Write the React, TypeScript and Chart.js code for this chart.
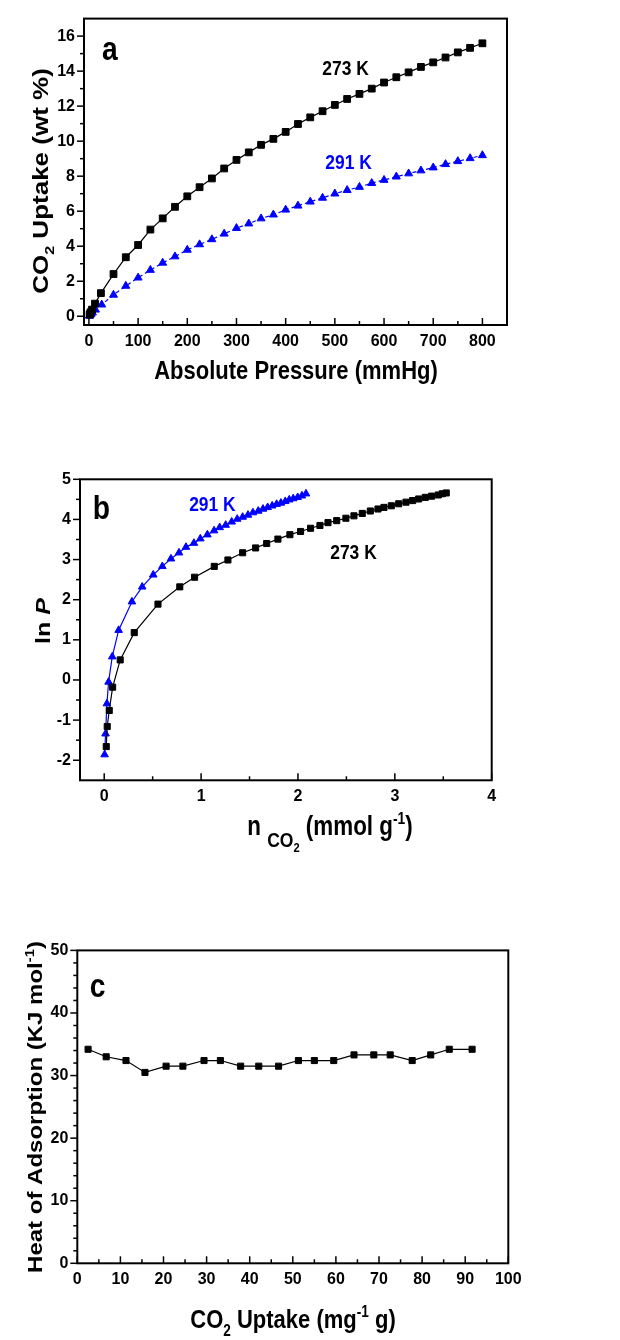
import React, { useEffect, useRef } from 'react';
import { Chart, registerables } from 'chart.js';

Chart.register(...registerables);

const NARROW = '"Liberation Sans Narrow", "Arial Narrow", "Liberation Sans", Arial, sans-serif';
const WIDE = '"Liberation Sans", Arial, sans-serif';
const SQUEEZE = 0.83;

// ---------- Panel a : CO2 uptake vs absolute pressure ----------
const A_P_273 = [1.4, 2.4, 3.5, 6.3, 12.4, 24.4, 50, 75, 100, 125, 150, 175, 200, 225, 250, 275, 300, 325, 350, 375, 400, 425, 450, 475, 500, 525, 550, 575, 600, 625, 650, 675, 700, 725, 750, 775, 800];
const A_U_273 = [0.09, 0.14, 0.23, 0.38, 0.72, 1.32, 2.41, 3.37, 4.07, 4.95, 5.59, 6.25, 6.85, 7.37, 7.87, 8.44, 8.93, 9.36, 9.79, 10.13, 10.53, 10.98, 11.36, 11.71, 12.07, 12.41, 12.7, 13.0, 13.35, 13.65, 13.93, 14.24, 14.5, 14.78, 15.07, 15.33, 15.59];
const A_P_291 = [1.2, 2.0, 4.2, 7.1, 13.4, 26, 50, 75, 100, 125, 150, 175, 200, 225, 250, 275, 300, 325, 350, 375, 400, 425, 450, 475, 500, 525, 550, 575, 600, 625, 650, 675, 700, 725, 750, 775, 800];
const A_U_291 = [0.02, 0.06, 0.12, 0.2, 0.37, 0.66, 1.22, 1.73, 2.2, 2.64, 3.05, 3.41, 3.79, 4.1, 4.39, 4.71, 5.03, 5.29, 5.58, 5.8, 6.08, 6.31, 6.54, 6.76, 7.0, 7.2, 7.38, 7.6, 7.78, 7.97, 8.15, 8.32, 8.49, 8.68, 8.85, 9.02, 9.19];
const A_X_MAJOR = [0, 100, 200, 300, 400, 500, 600, 700, 800];
const A_X_MINOR = [50, 150, 250, 350, 450, 550, 650, 750];
const A_Y_MAJOR = [0, 2, 4, 6, 8, 10, 12, 14, 16];
const A_Y_MINOR = [1, 3, 5, 7, 9, 11, 13, 15];

// ---------- Panel b : ln P vs n CO2 ----------
const B_N_273 = [0.021, 0.031, 0.052, 0.087, 0.165, 0.31, 0.555, 0.78, 0.933, 1.136, 1.277, 1.429, 1.563, 1.677, 1.793, 1.917, 2.027, 2.13, 2.227, 2.31, 2.4, 2.495, 2.578, 2.664, 2.747, 2.826, 2.888, 2.964, 3.04, 3.115, 3.184, 3.246, 3.314, 3.38, 3.449, 3.49, 3.531];
const B_LNP_273 = [-1.66, -1.16, -0.76, -0.18, 0.5, 1.18, 1.89, 2.32, 2.56, 2.83, 2.99, 3.17, 3.29, 3.4, 3.51, 3.62, 3.7, 3.78, 3.85, 3.92, 3.97, 4.03, 4.09, 4.15, 4.21, 4.26, 4.3, 4.34, 4.39, 4.43, 4.47, 4.51, 4.55, 4.58, 4.61, 4.64, 4.66];
const B_N_291 = [0.004, 0.014, 0.028, 0.045, 0.083, 0.149, 0.286, 0.392, 0.506, 0.6, 0.689, 0.772, 0.844, 0.926, 0.992, 1.065, 1.134, 1.192, 1.254, 1.316, 1.373, 1.429, 1.484, 1.535, 1.59, 1.639, 1.687, 1.734, 1.78, 1.824, 1.869, 1.91, 1.951, 1.997, 2.041, 2.083];
const B_LNP_291 = [-1.86, -1.34, -0.59, -0.05, 0.58, 1.24, 1.95, 2.32, 2.62, 2.83, 3.02, 3.17, 3.31, 3.41, 3.52, 3.62, 3.72, 3.8, 3.86, 3.94, 4.01, 4.06, 4.11, 4.17, 4.21, 4.26, 4.3, 4.34, 4.38, 4.41, 4.45, 4.49, 4.52, 4.55, 4.59, 4.64];
const B_X_MAJOR = [0, 1, 2, 3, 4];
const B_X_MINOR = [0.5, 1.5, 2.5, 3.5];
const B_Y_MAJOR = [-2, -1, 0, 1, 2, 3, 4, 5];
const B_Y_MINOR = [-1.5, -0.5, 0.5, 1.5, 2.5, 3.5, 4.5];

// ---------- Panel c : heat of adsorption ----------
const C_UPTAKE = [2.5, 6.7, 11.3, 15.7, 20.6, 24.5, 29.4, 33.2, 37.9, 42.1, 46.7, 51.3, 55.0, 59.5, 64.2, 68.8, 72.6, 77.7, 82.0, 86.3, 91.6];
const C_HEAT = [34.2, 33.0, 32.4, 30.5, 31.5, 31.5, 32.4, 32.4, 31.5, 31.5, 31.5, 32.4, 32.4, 32.4, 33.3, 33.3, 33.3, 32.4, 33.3, 34.2, 34.2];
const C_X_MAJOR = [0, 10, 20, 30, 40, 50, 60, 70, 80, 90, 100];
const C_X_MINOR = [5, 15, 25, 35, 45, 55, 65, 75, 85, 95];
const C_Y_MAJOR = [0, 10, 20, 30, 40, 50];
const C_Y_MINOR = [2, 4, 6, 8, 12, 14, 16, 18, 22, 24, 26, 28, 32, 34, 36, 38, 42, 44, 46, 48];

type Seg = { t: string; s?: number; d?: number; it?: boolean };
type Title = { segs: Seg[]; x: number; y: number; rot: number; size: number; family: string };
type Note = { text: string; x: number; y: number; size: number; color: string };

function drawRich(ctx: CanvasRenderingContext2D, t: Title) {
  ctx.save();
  ctx.translate(t.x, t.y);
  ctx.scale(SQUEEZE, 1);
  ctx.rotate(t.rot);
  const fontOf = (sg: Seg) => `${sg.it ? 'italic ' : ''}bold ${Math.round(t.size * (sg.s || 1) * 10) / 10}px ${t.family}`;
  let total = 0;
  const widths = t.segs.map((sg) => {
    ctx.font = fontOf(sg);
    const w = ctx.measureText(sg.t).width;
    total += w;
    return w;
  });
  let cx = -total / 2;
  ctx.textAlign = 'left';
  ctx.textBaseline = 'alphabetic';
  ctx.fillStyle = '#000';
  t.segs.forEach((sg, i) => {
    ctx.font = fontOf(sg);
    ctx.fillText(sg.t, cx, (sg.d || 0) * t.size);
    cx += widths[i];
  });
  ctx.restore();
}

function makeDecor(titles: Title[], notes: Note[]) {
  return {
    id: 'decor',
    afterDraw(chart: any) {
      const ctx: CanvasRenderingContext2D = chart.ctx;
      const a = chart.chartArea;
      const xs = chart.scales.x;
      const ys = chart.scales.y;
      ctx.save();
      ctx.strokeStyle = '#000';
      ctx.lineWidth = 2;
      ctx.strokeRect(a.left, a.top, a.right - a.left, a.bottom - a.top);
      ctx.lineWidth = 1.5;
      xs.ticks.forEach((tk: any) => {
        const p = xs.getPixelForValue(tk.value);
        const len = tk.label !== '' ? 7 : 4;
        ctx.beginPath();
        ctx.moveTo(p, a.bottom);
        ctx.lineTo(p, a.bottom - len);
        ctx.stroke();
      });
      ys.ticks.forEach((tk: any) => {
        const p = ys.getPixelForValue(tk.value);
        const len = tk.label !== '' ? 7 : 4;
        ctx.beginPath();
        ctx.moveTo(a.left, p);
        ctx.lineTo(a.left - len, p);
        ctx.stroke();
      });
      titles.forEach((t) => drawRich(ctx, t));
      notes.forEach((n) => {
        ctx.save();
        ctx.translate(xs.getPixelForValue(n.x), ys.getPixelForValue(n.y));
        ctx.scale(SQUEEZE, 1);
        ctx.font = `bold ${n.size}px ${NARROW}`;
        ctx.fillStyle = n.color;
        ctx.textAlign = 'center';
        ctx.textBaseline = 'middle';
        ctx.fillText(n.text, 0, 0);
        ctx.restore();
      });
      ctx.restore();
    },
  };
}

function axis(min: number, max: number, major: number[], minor: number[], key: 'width' | 'height', size: number, padding: number) {
  const all = [...major, ...minor].sort((p, q) => p - q);
  return {
    type: 'linear',
    min,
    max,
    grid: { display: false, drawTicks: false },
    border: { display: false },
    afterBuildTicks: (s: any) => {
      s.ticks = all.map((v) => ({ value: v }));
    },
    afterFit: (s: any) => {
      s[key] = size;
    },
    ticks: {
      autoSkip: false,
      maxRotation: 0,
      minRotation: 0,
      padding,
      color: '#000',
      font: { family: NARROW, size: 16, weight: 'bold' },
      callback: (v: number) => (major.some((m) => Math.abs(m - v) < 1e-9) ? String(v) : ''),
    },
  };
}

const pts = (xs: number[], ys: number[]) => xs.map((x, i) => ({ x, y: ys[i] }));

function baseOptions(padding: any, scales: any) {
  return {
    responsive: false,
    animation: false,
    events: [],
    layout: { padding },
    plugins: { legend: { display: false }, tooltip: { enabled: false } },
    scales,
  };
}

function configA(): any {
  return {
    type: 'scatter',
    data: {
      datasets: [
        { data: pts(A_P_273, A_U_273), showLine: true, borderColor: '#000', backgroundColor: '#000', borderWidth: 1.2, pointStyle: 'rect', pointRadius: 4.8, pointBorderWidth: 1 },
        { data: pts(A_P_291, A_U_291), showLine: true, borderColor: '#0000ff', backgroundColor: '#0000ff', borderWidth: 1.2, borderDash: [4, 3], pointStyle: 'triangle', pointRadius: 4.6, pointBorderWidth: 1 },
      ],
    },
    options: baseOptions({ top: 14, left: 0, right: 113, bottom: 0 }, {
      x: axis(-10, 850, A_X_MAJOR, A_X_MINOR, 'height', 75, 7),
      y: axis(-0.5, 17, A_Y_MAJOR, A_Y_MINOR, 'width', 84, 9),
    }),
    plugins: [makeDecor([
      { segs: [{ t: 'CO' }, { t: '2', s: 0.62, d: 0.3 }, { t: ' Uptake (wt %)' }], x: 48, y: 181, rot: -Math.PI / 2, size: 26, family: WIDE },
      { segs: [{ t: 'Absolute Pressure (mmHg)' }], x: 296, y: 379, rot: 0, size: 26.5, family: NARROW },
    ], [
      { text: 'a', x: 42.7, y: 15.17, size: 34, color: '#000' },
      { text: '273 K', x: 521.7, y: 14.13, size: 21, color: '#000' },
      { text: '291 K', x: 527.8, y: 8.74, size: 21, color: '#0000ff' },
    ])],
  };
}

function configB(): any {
  return {
    type: 'scatter',
    data: {
      datasets: [
        { data: pts(B_N_273, B_LNP_273), showLine: true, borderColor: '#000', backgroundColor: '#000', borderWidth: 1.2, pointStyle: 'rect', pointRadius: 4.3, pointBorderWidth: 1 },
        { data: pts(B_N_291, B_LNP_291), showLine: true, borderColor: '#0000ff', backgroundColor: '#0000ff', borderWidth: 1.2, pointStyle: 'triangle', pointRadius: 4.4, pointBorderWidth: 1 },
      ],
    },
    options: baseOptions({ top: 59.3, left: 0, right: 128.3, bottom: 0 }, {
      x: axis(-0.25, 4, B_X_MAJOR, B_X_MINOR, 'height', 89.7, 7),
      y: axis(-2.5, 5, B_Y_MAJOR, B_Y_MINOR, 'width', 80, 9),
    }),
    plugins: [makeDecor([
      { segs: [{ t: 'ln ' }, { t: 'P', it: true }], x: 50, y: 201, rot: -Math.PI / 2, size: 25, family: WIDE },
      { segs: [{ t: 'n ' }, { t: 'CO', s: 0.78, d: 0.45 }, { t: '2', s: 0.5, d: 0.64 }, { t: ' (mmol g' }, { t: '-1', s: 0.62, d: -0.4 }, { t: ')' }], x: 330, y: 415, rot: 0, size: 27, family: NARROW },
    ], [
      { text: 'b', x: -0.029, y: 4.25, size: 34, color: '#000' },
      { text: '291 K', x: 1.117, y: 4.35, size: 21, color: '#0000ff' },
      { text: '273 K', x: 2.573, y: 3.17, size: 21, color: '#000' },
    ])],
  };
}

function configC(): any {
  return {
    type: 'scatter',
    data: {
      datasets: [
        { data: pts(C_UPTAKE, C_HEAT), showLine: true, borderColor: '#000', backgroundColor: '#000', borderWidth: 1.2, pointStyle: 'rect', pointRadius: 4.3, pointBorderWidth: 1 },
      ],
    },
    options: baseOptions({ top: 70.4, left: 0, right: 111.7, bottom: 0 }, {
      x: axis(0, 100, C_X_MAJOR, C_X_MINOR, 'height', 76.7, 7),
      y: axis(0, 50, C_Y_MAJOR, C_Y_MINOR, 'width', 77.3, 9),
    }),
    plugins: [makeDecor([
      { segs: [{ t: 'Heat of Adsorption (KJ mol' }, { t: '-1', s: 0.62, d: -0.4 }, { t: ')' }], x: 42, y: 227, rot: -Math.PI / 2, size: 24, family: WIDE },
      { segs: [{ t: 'CO' }, { t: '2', s: 0.62, d: 0.3 }, { t: ' Uptake (mg' }, { t: '-1', s: 0.62, d: -0.4 }, { t: ' g)' }], x: 293, y: 448, rot: 0, size: 26.5, family: NARROW },
    ], [
      { text: 'c', x: 4.69, y: 44.0, size: 34, color: '#000' },
    ])],
  };
}

export default function App() {
  const refA = useRef<HTMLCanvasElement>(null);
  const refB = useRef<HTMLCanvasElement>(null);
  const refC = useRef<HTMLCanvasElement>(null);

  useEffect(() => {
    const charts = [
      new Chart(refA.current as HTMLCanvasElement, configA()),
      new Chart(refB.current as HTMLCanvasElement, configB()),
      new Chart(refC.current as HTMLCanvasElement, configC()),
    ];
    return () => charts.forEach((c) => c.destroy());
  }, []);

  const cs = (top: number, h: number): React.CSSProperties => ({ position: 'absolute', left: 0, top, width: 620, height: h });

  return (
    <div style={{ position: 'absolute', left: 0, top: 0, width: 620, height: 1340, background: '#fff' }}>
      <canvas ref={refA} width={620} height={400} style={cs(0, 400)} />
      <canvas ref={refB} width={620} height={450} style={cs(420, 450)} />
      <canvas ref={refC} width={620} height={460} style={cs(880, 460)} />
    </div>
  );
}
